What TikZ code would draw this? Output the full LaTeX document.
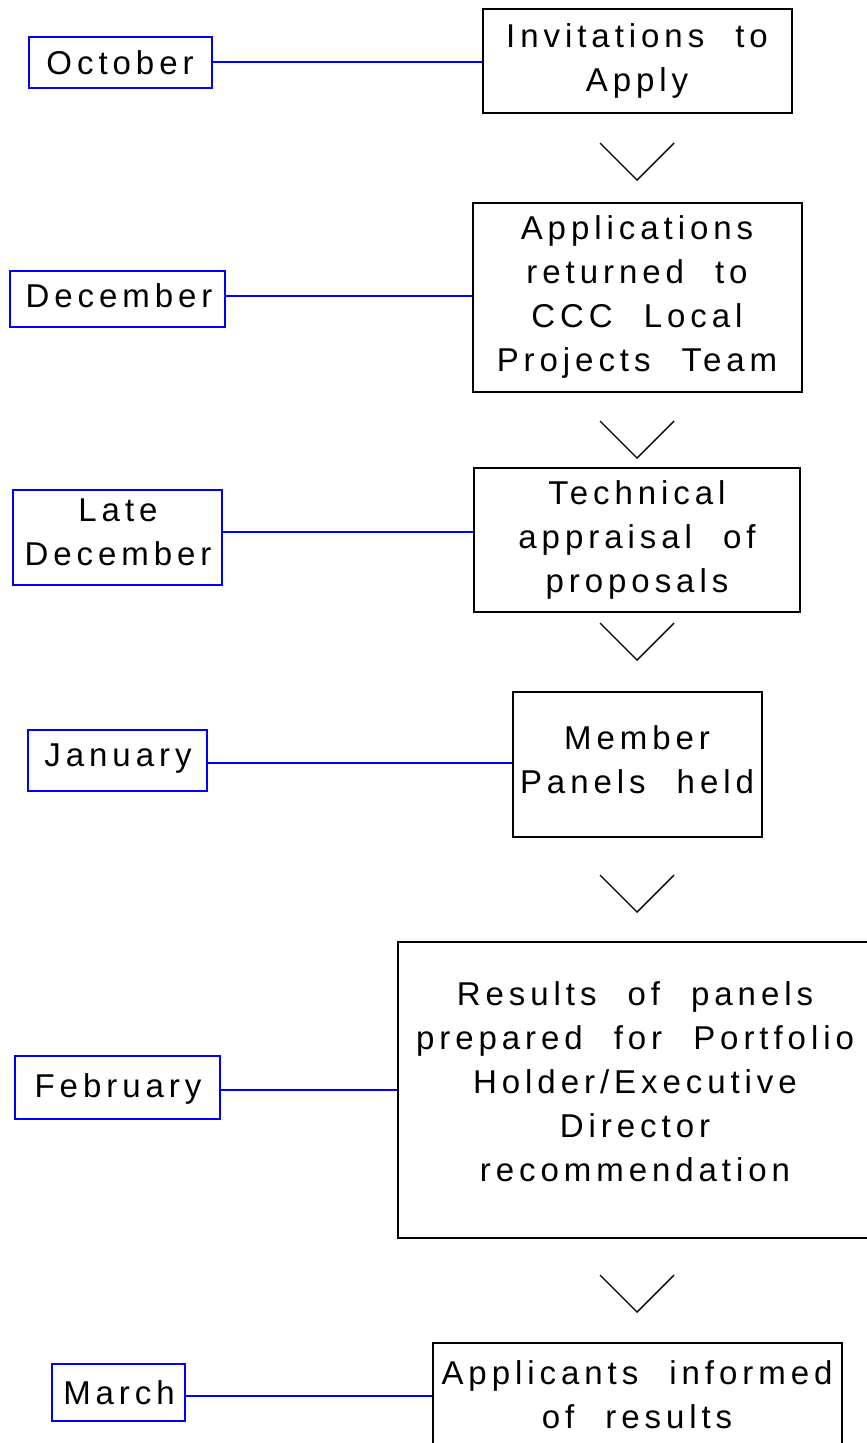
\documentclass[tikz,border=0pt]{standalone}
\usepackage{fontspec}
\setmainfont{Liberation Sans}[LetterSpace=15,WordSpace=2.2]
\begin{document}
\begin{tikzpicture}[x=1pt,y=-1pt,
  stepbox/.style={draw=black,line width=2pt,rectangle,inner sep=0pt},
  monthbox/.style={draw=blue,line width=2pt,rectangle,inner sep=0pt},
  txt/.style={inner sep=0pt,anchor=north,align=center,font=\fontsize{33}{44}\selectfont},
  conn/.style={draw=blue,line width=1.8pt},
  chev/.style={draw=black,line width=1.4pt}]
\useasboundingbox (0,0) rectangle (867,1443);
% step boxes
\node[stepbox,minimum width=309.3pt,minimum height=103.7pt] (b1) at (637.3,61.2) {};
\node[stepbox,minimum width=329pt,minimum height=189.3pt] (b2) at (637.2,297.3) {};
\node[stepbox,minimum width=326pt,minimum height=144.6pt] (b3) at (637,540) {};
\node[stepbox,minimum width=249pt,minimum height=145pt] (b4) at (637.2,764.2) {};
\node[stepbox,minimum width=472.3pt,minimum height=296.3pt] (b5) at (633.9,1089.9) {};
\node[stepbox,minimum width=409pt,minimum height=106.7pt] (b6) at (637.2,1396.7) {};
% step texts
\node[txt] (t1) at (637,23.3) {Invitations to\\Apply};
\node[txt] (t2) at (637,215) {Applications\\returned to\\CCC Local\\Projects Team};
\node[txt] (t3) at (637,480) {Technical\\appraisal of\\proposals};
\node[txt] (t4) at (637,725) {Member\\Panels held};
\node[txt] (t5) at (635,981.7) {Results of panels\\prepared for Portfolio\\Holder/Executive\\Director\\recommendation};
\node[txt] (t6) at (637,1360) {Applicants informed\\of results};
% month boxes
\node[monthbox,minimum width=183pt,minimum height=51pt] (m1) at (120,62.5) {};
\node[monthbox,minimum width=215pt,minimum height=56pt] (m2) at (117.5,298.7) {};
\node[monthbox,minimum width=209pt,minimum height=95.3pt] (m3) at (117.5,537.7) {};
\node[monthbox,minimum width=179pt,minimum height=60.7pt] (m4) at (117.8,760.3) {};
\node[monthbox,minimum width=205pt,minimum height=62.7pt] (m5) at (117.5,1087.3) {};
\node[monthbox,minimum width=133.3pt,minimum height=57pt] (m6) at (118.3,1392.5) {};
% month texts
\node[txt] (n1) at (120,50.5) {October};
\node[txt] (n2) at (119,283.3) {December};
\node[txt] (n3) at (118,498.3) {Late\\December};
\node[txt] (n4) at (118,743.3) {January};
\node[txt] (n5) at (118,1073.3) {February};
\node[txt] (n6) at (119,1380) {March};
% connectors
\draw[conn] (m1.east |- 0,62) -- (b1.west |- 0,62);
\draw[conn] (m2.east |- 0,296) -- (b2.west |- 0,296);
\draw[conn] (m3.east |- 0,532) -- (b3.west |- 0,532);
\draw[conn] (m4.east |- 0,763.3) -- (b4.west |- 0,763.3);
\draw[conn] (m5.east |- 0,1090) -- (b5.west |- 0,1090);
\draw[conn] (m6.east |- 0,1396) -- (b6.west |- 0,1396);
% chevrons
\foreach \ya in {180,458,660,912,1312}{
  \draw[chev] (600,\ya-37) -- (637,\ya) -- (674,\ya-37);
}
\end{tikzpicture}
\end{document}
